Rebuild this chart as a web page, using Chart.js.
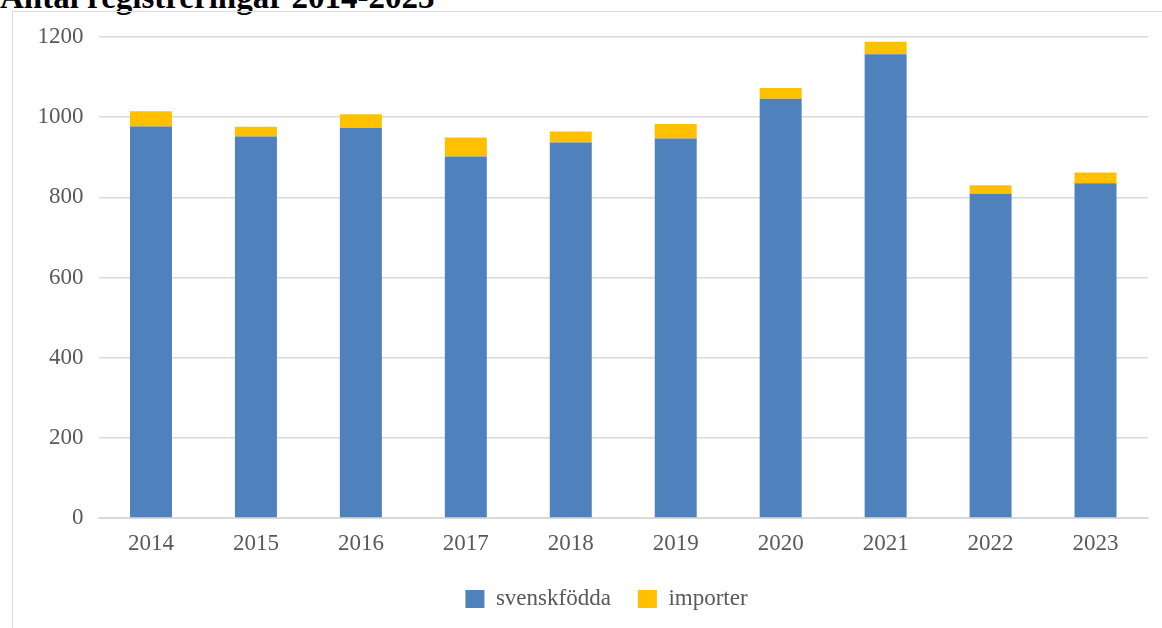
<!DOCTYPE html>
<html lang="sv">
<head>
    <meta charset="UTF-8">
    <title>Antal registreringar 2014-2023</title>
    <style>
        body { margin: 0; background: #fff; width: 1162px; height: 628px; overflow: hidden; position: relative; }
        .title {
            position: absolute; left: 0; top: -19px;
            font-family: "Liberation Serif", "Times New Roman", serif;
            font-weight: bold; font-size: 33px; line-height: 33px; color: #000;
            white-space: nowrap;
        }
        .frame {
            position: absolute; left: 12px; top: 11px; width: 1150px; height: 617px;
            border-left: 1px solid #d9d9d9; border-top: 1px solid #d9d9d9;
        }
        canvas { position: absolute; left: 13px; top: 12px; }
    </style>
    <script src="https://cdn.jsdelivr.net/npm/chart.js"></script>
</head>
<body>
    <div class="title">Antal registreringar 2014-2023</div>
    <div class="frame"></div>
    <canvas id="regChart" width="1167" height="616"></canvas>

    <script>
        // Data
        const years = ['2014', '2015', '2016', '2017', '2018', '2019', '2020', '2021', '2022', '2023'];
        const svenskfodda = [977, 952, 973, 902, 937, 947, 1046, 1157, 809, 835];
        const importer = [38, 24, 34, 47, 27, 36, 27, 31, 21, 27];
        const yTicks = [0, 200, 400, 600, 800, 1000, 1200];

        const serif = '"Liberation Serif", "Times New Roman", serif';
        const textGray = '#595959';
        const gridGray = '#d9d9d9';

        var data = {
            labels: years,
            datasets: [{
                label: 'svenskfödda',
                data: svenskfodda,
                backgroundColor: '#4f81bd'
            }, {
                label: 'importer',
                data: importer,
                backgroundColor: '#ffc000'
            }]
        };

        var options = {
            responsive: false,
            animation: false,
            barPercentage: 0.4,
            categoryPercentage: 1.0,
            layout: {
                padding: { left: 20, right: 0, top: 25, bottom: 7.5 }
            },
            plugins: {
                legend: {
                    position: 'bottom',
                    labels: {
                        boxWidth: 19,
                        boxHeight: 18,
                        padding: 27,
                        color: textGray,
                        font: { family: serif, size: 23 }
                    }
                },
                tooltip: { enabled: false }
            },
            scales: {
                x: {
                    stacked: true,
                    grid: { display: false, drawTicks: false },
                    border: { color: gridGray, width: 1 },
                    ticks: {
                        padding: 12,
                        color: textGray,
                        font: { family: serif, size: 23 }
                    },
                    afterFit: function(scale) { scale.height = 42.5; }
                },
                y: {
                    stacked: true,
                    min: 0,
                    max: 1200,
                    afterBuildTicks: function(scale) {
                        scale.ticks = yTicks.map(v => ({ value: v }));
                    },
                    grid: { color: gridGray, lineWidth: 1.5, drawTicks: false },
                    border: { display: false },
                    ticks: {
                        padding: 15,
                        color: textGray,
                        font: { family: serif, size: 23 },
                        callback: function(value) { return String(value); }
                    },
                    afterFit: function(scale) {
                        scale.width = 65.5;
                        scale.paddingTop = 0;
                        scale.paddingBottom = 0;
                    }
                },
                // empty right-hand spacer so the legend sits where it does in the original
                spacer: {
                    type: 'linear',
                    position: 'right',
                    grid: { display: false, drawTicks: false },
                    border: { display: false },
                    ticks: { display: false },
                    afterFit: function(scale) { scale.width = 32; }
                }
            }
        };

        var ctx = document.getElementById('regChart').getContext('2d');
        new Chart(ctx, { type: 'bar', data: data, options: options });
    </script>
</body>
</html>
